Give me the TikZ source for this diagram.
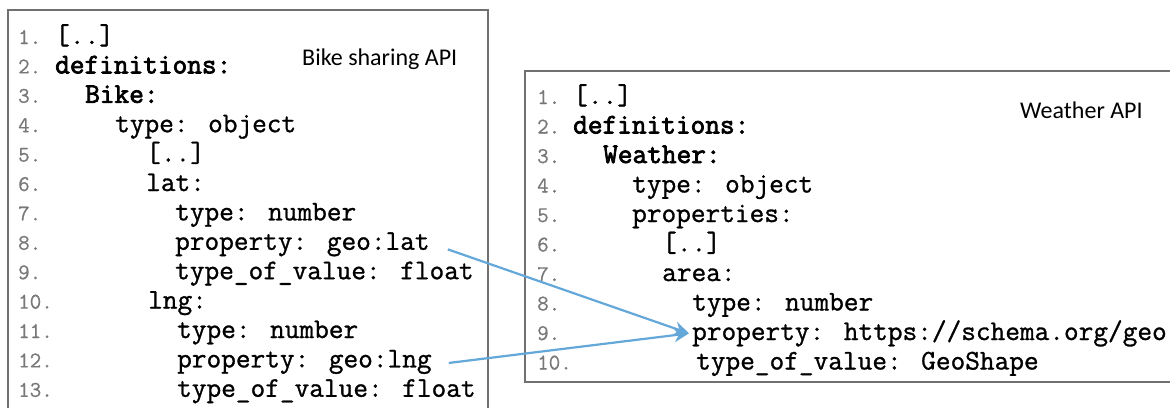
\documentclass[tikz,border=0pt]{standalone}
\usepackage{fontspec}
\usetikzlibrary{arrows.meta}
\newfontfamily\sansfam{Carlito}
\newfontfamily\codefam{Latin Modern Mono}[FakeBold=1.0]
\newfontfamily\codeheavyfam{Latin Modern Mono}[FakeBold=2.6]
\newfontfamily\numfam{Latin Modern Mono}[FakeBold=0.6]
\newcommand\codefont{\codefam\fontsize{28.5}{29.5}\selectfont}
\newcommand\codeboldfont{\codeheavyfam\fontsize{28.5}{29.5}\selectfont}
\newcommand\numfont{\numfam\fontsize{22.4}{24}\selectfont}
\newcommand\labelfont{\sansfam\fontsize{24}{28}\selectfont}
\definecolor{framegray}{RGB}{112,112,112}
\definecolor{lnogray}{RGB}{120,120,120}
\definecolor{linkblue}{RGB}{100,168,218}
\tikzset{
  code/.style={anchor=base west, inner sep=0pt, font=\codefont},
  codeb/.style={code, font=\codeboldfont},
  lno/.style={anchor=base west, inner sep=0pt, font=\numfont, text=lnogray},
  panel/.style={draw=framegray, line width=1.4pt},
  apititle/.style={anchor=base west, inner sep=0pt, font=\labelfont},
  link/.style={draw=linkblue, line width=2.2pt, -{Stealth[length=15pt,width=14pt]}},
}
\begin{document}
\begin{tikzpicture}[x=1pt,y=-1pt]
\clip (0,0) rectangle (1170,407);
\fill[white] (0,0) rectangle (1170,407);

% ---- Bike sharing API listing ----
\draw[panel] (8,10) rectangle (488,430);
\node[apititle] (bikeT) at (302,65) {Bike sharing API};
\foreach \i/\y in {1/44,2/73.4,3/102.8,4/132.2,5/161.6,6/191,7/220.4,8/249.8,9/279.2,10/308.6,11/338,12/367.4,13/396.8}
  \node[lno] (LN\i) at (18,\y) {\i.};
\node[code]  (L1)  at (55,44)    {[..]};
\node[codeb] (L2)  at (55,73.4)  {definitions:};
\node[codeb] (L3)  at (85,102.8) {Bike:};
\node[code]  (L4)  at (115,132.2){type: object};
\node[code]  (L5)  at (146,161.6){[..]};
\node[code]  (L6)  at (146,191)  {lat:};
\node[code]  (L7)  at (175,220.4){type: number};
\node[code]  (L8)  at (175,249.8){property: geo:lat};
\node[code]  (L9)  at (175,279.2){type\_of\_value: float};
\node[code]  (L10) at (148,308.6){lng:};
\node[code]  (L11) at (177,338)  {type: number};
\node[code]  (L12) at (177,367.4){property: geo:lng};
\node[code]  (L13) at (177,396.8){type\_of\_value: float};

% ---- Weather API listing ----
\draw[panel] (525,71) rectangle (1190,382);
\node[apititle] (weatherT) at (1020,118) {Weather API};
\foreach \i/\y in {1/104,2/133.5,3/163,4/192.5,5/222,6/251.5,7/281,8/310.5,9/340,10/369.5}
  \node[lno] (RN\i) at (537,\y) {\i.};
\node[code]  (R1)  at (573,104)   {[..]};
\node[codeb] (R2)  at (573,133.5) {definitions:};
\node[codeb] (R3)  at (603,163)   {Weather:};
\node[code]  (R4)  at (632,192.5) {type: object};
\node[code]  (R5)  at (632,222)   {properties:};
\node[code]  (R6)  at (662,251.5) {[..]};
\node[code]  (R7)  at (662,281)   {area:};
\node[code]  (R8)  at (692,310.5) {type: number};
\node[code]  (R9)  at (692,340)   {property: https://schema.org/geo};
\node[code]  (R10) at (696,369.5) {type\_of\_value: GeoShape};

% ---- property links ----
\draw[link] ([xshift=18pt,yshift=-5pt]L8.east) -- ([xshift=-3pt]R9.west);
\draw[link] ([xshift=17pt,yshift=-1pt]L12.east) -- ([xshift=-3pt]R9.west);
\end{tikzpicture}
\end{document}
